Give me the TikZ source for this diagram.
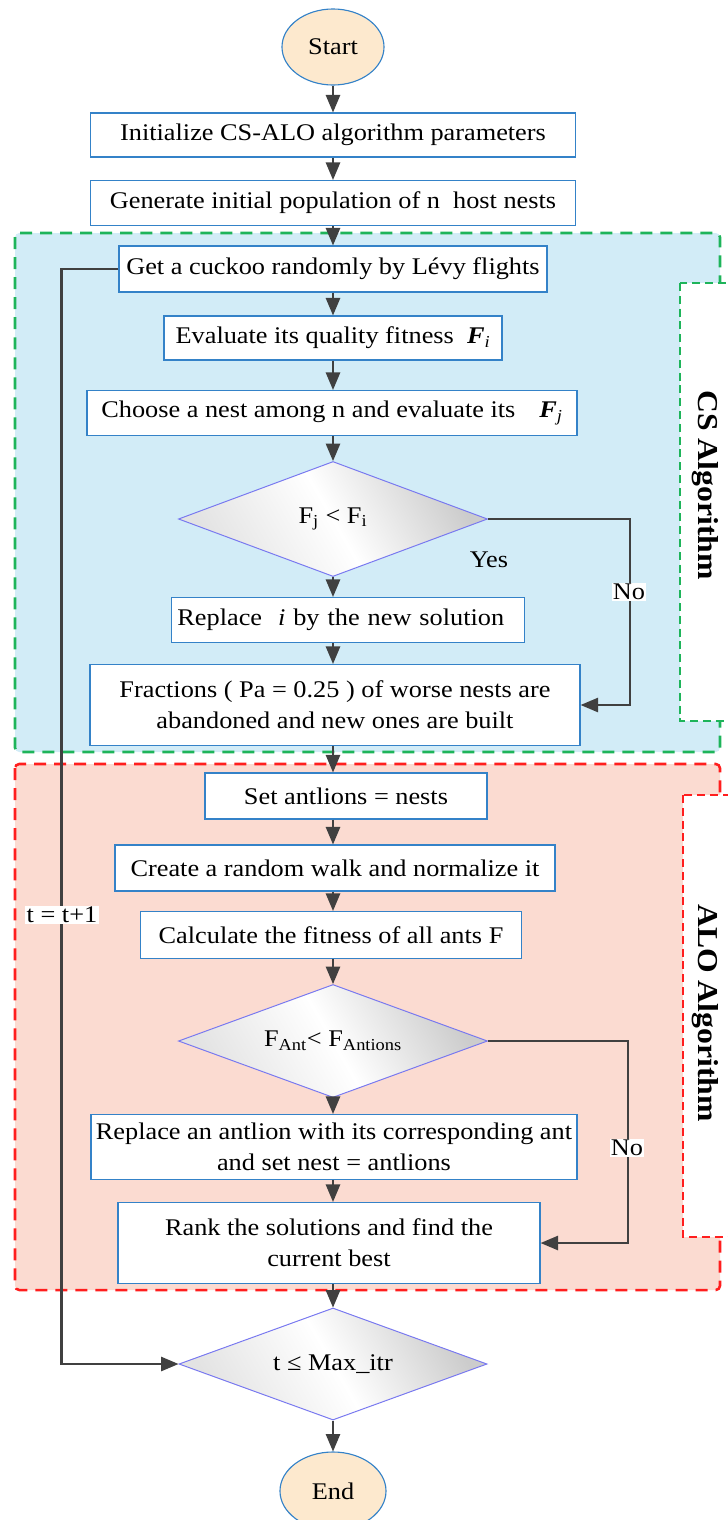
\documentclass[tikz,border=0pt]{standalone}
\usepackage{fontspec}
\setmainfont[FakeStretch=1.1]{Liberation Serif}
\usepackage{xcolor}
\usepackage{tikz}
\usetikzlibrary{shapes.geometric,calc,arrows}

\definecolor{boxblue}{RGB}{52,130,200}
\definecolor{csfill}{RGB}{210,236,247}
\definecolor{csline}{RGB}{30,180,90}
\definecolor{alofill}{RGB}{251,219,209}
\definecolor{aloline}{RGB}{255,30,30}
\definecolor{termfill}{RGB}{253,233,206}
\definecolor{decline}{RGB}{120,120,240}
\definecolor{arrowgray}{RGB}{64,64,64}

\tikzset{
  procbox/.style={draw=boxblue,line width=0.9pt,fill=white,inner sep=0pt,align=center,
    font=\fontsize{17}{22}\selectfont},
  termnode/.style={ellipse,draw=boxblue,line width=0.8pt,fill=termfill,inner sep=0pt,
    font=\fontsize{17}{20}\selectfont},
  decision/.style={diamond,draw=decline,line width=0.7pt,inner sep=0pt,aspect=2.7,
    minimum width=7.725cm,minimum height=2.875cm,
    left color=gray!22,right color=gray!40,middle color=white,shading angle=120,
    font=\fontsize{17}{20}\selectfont},
  flow/.style={->,draw=arrowgray,line width=1.9pt},
  regionlabel/.style={rotate=-90,font=\fontsize{20.5}{24}\selectfont\bfseries},
  sidetext/.style={font=\fontsize{17}{20}\selectfont,inner sep=1pt}
}

\begin{document}
\begin{tikzpicture}[x=0.025cm,y=-0.025cm,>=triangle 45]
  \useasboundingbox (0,0) rectangle (728,1520);
  \coordinate (axis) at (333,0);

  % CS part
  \filldraw [fill=csfill,draw=csline,line width=1.8pt,dash pattern=on 0.3cm off 0.2cm,rounded corners=3pt]
    (15,233) rectangle (720,752);
  \filldraw [fill=white,draw=csline,line width=0.8pt,dash pattern=on 0.2cm off 0.12cm]
    (680,283) rectangle (745,721);
  \node (csLabel) [regionlabel] at (705,485) {CS Algorithm};

  % ALO part
  \filldraw [fill=alofill,draw=aloline,line width=1.8pt,dash pattern=on 0.3cm off 0.2cm,rounded corners=3pt]
    (15,764) rectangle (720,1290);
  \filldraw [fill=white,draw=aloline,line width=0.8pt,dash pattern=on 0.2cm off 0.12cm]
    (683,795) rectangle (745,1237);
  \node (aloLabel) [regionlabel] at (705,1013) {ALO Algorithm};

  % Nodes
  \node (Start) [termnode,minimum width=2.55cm,minimum height=1.9cm] at (333,47) {Start};
  \node (Init) [procbox,minimum width=12.125cm,minimum height=1.1cm] at (333,135)
    {Initialize CS-ALO algorithm parameters};
  \node (Gen) [procbox,minimum width=12.125cm,minimum height=1.125cm] at (333,203)
    {Generate initial population of n\ \ host nests};
  \node (Cuckoo) [procbox,minimum width=10.7cm,minimum height=1.15cm] at (333,269)
    {Get a cuckoo randomly by Lévy flights};
  \node (Eval) [procbox,minimum width=8.45cm,minimum height=1.1cm] at (333,338)
    {Evaluate its quality fitness \ \textbf{\textit{F}}\textsubscript{\textit{i}}};
  \node (Choose) [procbox,minimum width=12.25cm,minimum height=1.125cm] at (332,413)
    {Choose a nest among n and evaluate its\quad \textbf{\textit{F}}\textsubscript{\textit{j}}};
  \node (Cmp1) [decision] at (333,519) {F\textsubscript{j} < F\textsubscript{i}};
  \node (Repl) [procbox,text width=8.525cm,inner xsep=0.15cm,align=left,minimum height=1.125cm] at (348,620)
    {Replace\ \ \textit{i} by the new solution};
  \node (Frac) [procbox,minimum width=12.25cm,minimum height=2.025cm] at (335,705)
    {Fractions ( Pa = 0.25 ) of worse nests are\\abandoned and new ones are built};
  \node (Set) [procbox,minimum width=7.05cm,minimum height=1.15cm] at (346,796)
    {Set antlions = nests};
  \node (Create) [procbox,minimum width=11cm,minimum height=1.15cm] at (335,868)
    {Create a random walk and normalize it};
  \node (Calc) [procbox,minimum width=9.525cm,minimum height=1.175cm] at (331,935)
    {Calculate the fitness of all ants F};
  \node (Cmp2) [decision,minimum height=2.825cm] at (333,1041)
    {F\textsubscript{Ant}< F\textsubscript{Antions}};
  \node (ReplAnt) [procbox,minimum width=12.15cm,minimum height=1.625cm] at (334,1147)
    {Replace an antlion with its corresponding ant\\and set nest = antlions};
  \node (Rank) [procbox,minimum width=10.55cm,minimum height=2.025cm] at (329,1243)
    {Rank the solutions and find the\\current best};
  \node (Check) [decision,minimum width=7.7cm,minimum height=2.8cm] at (333,1364)
    {t ≤ Max\_itr};
  \node (End) [termnode,minimum width=2.65cm,minimum height=1.95cm] at (333,1491) {End};

  % Main flow
  \draw [flow] (Start) -- (Init);
  \draw [flow] (Init) -- (Gen);
  \draw [flow] (Gen) -- (Cuckoo);
  \draw [flow] (Cuckoo) -- (Eval);
  \draw [flow] (Eval) -- (Choose.north -| axis);
  \draw [flow] (Choose.south -| axis) -- (Cmp1);
  \draw [flow] (Cmp1) -- (Repl.north -| axis);
  \draw [flow] (Repl.south -| axis) -- (Frac.north -| axis);
  \draw [flow] (Frac.south -| axis) -- (Set.north -| axis);
  \draw [flow] (Set.south -| axis) -- (Create.north -| axis);
  \draw [flow] (Create.south -| axis) -- (Calc.north -| axis);
  \draw [flow] (Calc.south -| axis) -- (Cmp2);
  \draw [flow] (Cmp2) -- (ReplAnt.north -| axis);
  \draw [flow] (ReplAnt.south -| axis) -- (Rank.north -| axis);
  \draw [flow] (Rank.south -| axis) -- (Check);
  \draw [flow] (Check) -- (End);

  % No branches
  \draw [flow] (Cmp1.east) -- ++(142,0) |- (Frac.east);
  \draw [flow] (Cmp2.east) -- ++(140,0) |- (Rank.east);
  \node (yes1) [sidetext] at (489,560) {Yes};
  \node (no1) [sidetext,fill=white] at (629,592) {No};
  \node (no2) [sidetext,fill=white] at (627,1148) {No};

  % Loop back
  \draw [flow] (Cuckoo.west) -- ++(-57,0) |- (Check.west);
  \node (loop) [sidetext,fill=white] at (62,915) {t = t+1};
\end{tikzpicture}
\end{document}
